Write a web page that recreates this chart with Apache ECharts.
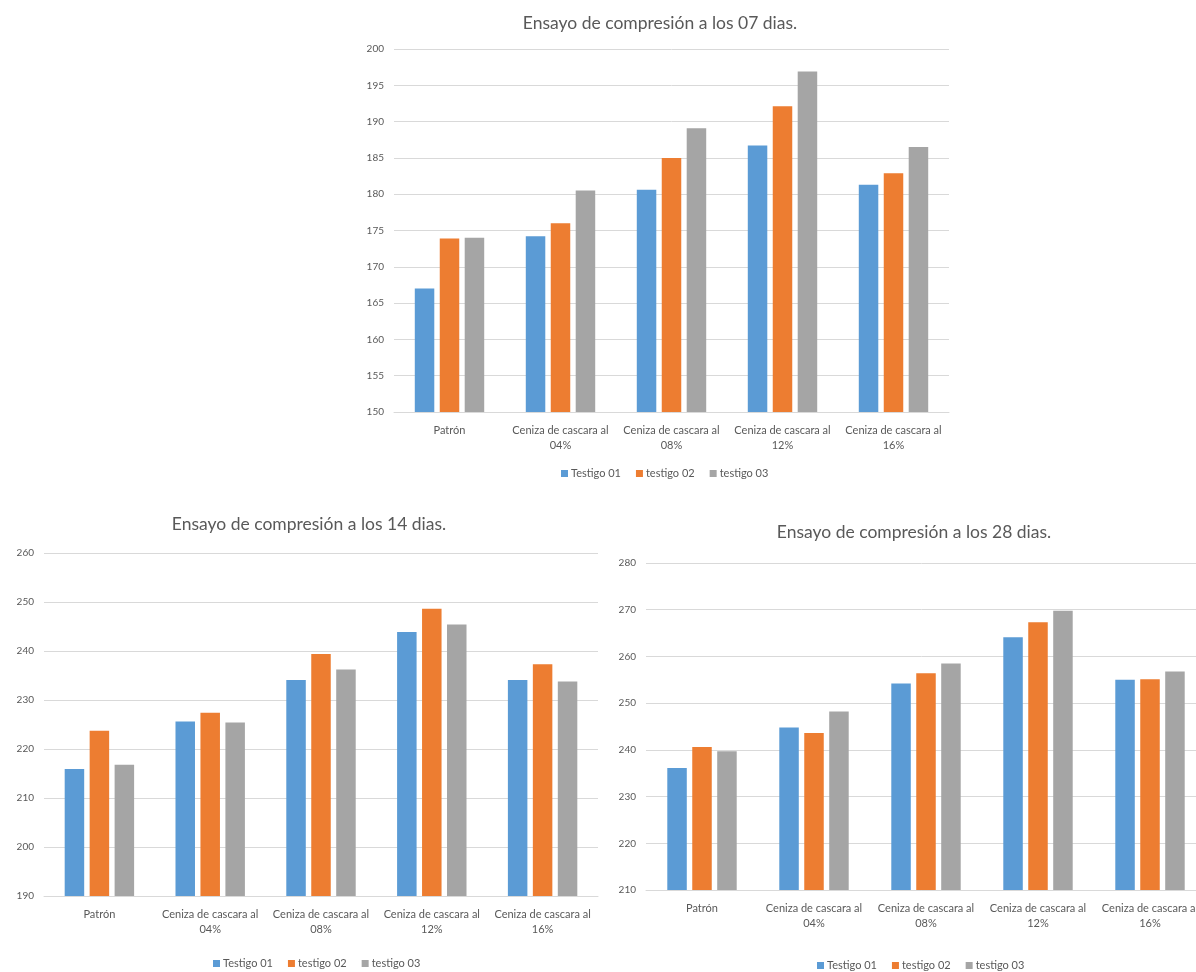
<!DOCTYPE html>
<html>
<head>
<meta charset="utf-8">
<script src="https://cdn.jsdelivr.net/npm/echarts@6/dist/echarts.min.js"></script>
<style>
html,body{margin:0;padding:0;background:#fff;}
#c{width:1196px;height:972px;}
</style>
</head>
<body>
<div id="c"></div>
<script>
const categories = ['Patrón', 'Ceniza de cascara al\n04%', 'Ceniza de cascara al\n08%', 'Ceniza de cascara al\n12%', 'Ceniza de cascara al\n16%'];
const seriesNames = ['Testigo 01', 'testigo 02', 'testigo 03'];

const titles = ['Ensayo de compresión a los 07 dias.', 'Ensayo de compresión a los 14 dias.', 'Ensayo de compresión a los 28 dias.'];

// 07 days
const d07_t1 = [167.0, 174.2, 180.6, 186.7, 181.3];
const d07_t2 = [173.9, 176.0, 185.0, 192.1, 182.9];
const d07_t3 = [174.0, 180.5, 189.1, 196.9, 186.5];
// 14 days
const d14_t1 = [215.9, 225.6, 234.1, 243.9, 234.1];
const d14_t2 = [223.7, 227.4, 239.4, 248.6, 237.3];
const d14_t3 = [216.8, 225.4, 236.2, 245.4, 233.8];
// 28 days
const d28_t1 = [236.1, 244.8, 254.2, 264.1, 255.0];
const d28_t2 = [240.6, 243.6, 256.4, 267.3, 255.1];
const d28_t3 = [239.7, 248.2, 258.5, 269.8, 256.8];

const yMin = [150, 190, 210];
const yMax = [200, 260, 280];
const yStep = [5, 10, 10];

const colors = ['#5B9BD5', '#ED7D31', '#A5A5A5'];
const txt = '#595959';
const gridCol = '#D9D9D9';
const FONT = 'Lato, "Open Sans", sans-serif';

const chart = echarts.init(document.getElementById('c'), null, {renderer: 'canvas'});

const grids = [
  {left: 394, top: 49, width: 555, height: 363},
  {left: 44, top: 553, width: 554, height: 343},
  {left: 646, top: 563, width: 560, height: 327}
];
const titlePos = [
  {left: 655, top: 9},
  {left: 304, top: 510},
  {left: 909, top: 518}
];
const legendPos = [
  {left: 556, top: 463},
  {left: 208, top: 953},
  {left: 812, top: 955}
];
const titleSize = [17.5, 17.5, 17.5];

const data = [
  [d07_t1, d07_t2, d07_t3],
  [d14_t1, d14_t2, d14_t3],
  [d28_t1, d28_t2, d28_t3]
];

const option = {
  animation: false,
  color: colors,
  textStyle: {fontFamily: FONT},
  title: titles.map((t, i) => ({
    text: t,
    left: titlePos[i].left,
    top: titlePos[i].top,
    textAlign: 'center',
    textStyle: {fontFamily: FONT, fontSize: titleSize[i], fontWeight: 'normal', color: txt}
  })),
  legend: legendPos.map((p, i) => ({
    data: seriesNames,
    left: p.left,
    top: p.top,
    orient: 'horizontal',
    icon: 'rect',
    itemWidth: 7,
    itemHeight: 7,
    itemGap: 15,
    textStyle: {fontFamily: FONT, fontSize: 11, color: txt, padding: [0, 0, 0, -2]}
  })),
  grid: grids.map(g => Object.assign({containLabel: false, outerBoundsMode: 'none'}, g)),
  xAxis: grids.map((g, i) => ({
    type: 'category',
    gridIndex: i,
    data: categories,
    axisTick: {show: false},
    axisLine: {show: true, lineStyle: {color: gridCol, width: 1}},
    axisLabel: {color: txt, fontSize: 11, fontFamily: FONT, margin: 11, lineHeight: 15, interval: 0}
  })),
  yAxis: grids.map((g, i) => ({
    type: 'value',
    gridIndex: i,
    min: yMin[i],
    max: yMax[i],
    interval: yStep[i],
    axisLine: {show: false},
    axisTick: {show: false},
    splitLine: {show: true, lineStyle: {color: gridCol, width: 1}},
    axisLabel: {color: txt, fontSize: 10, fontFamily: FONT, margin: 10}
  })),
  series: []
};

data.forEach((group, gi) => {
  group.forEach((vals, si) => {
    option.series.push({
      type: 'bar',
      name: seriesNames[si],
      xAxisIndex: gi,
      yAxisIndex: gi,
      data: vals,
      barWidth: 19.5,
      barGap: '28%',
      itemStyle: {color: colors[si]}
    });
  });
});

chart.setOption(option);
</script>
</body>
</html>
